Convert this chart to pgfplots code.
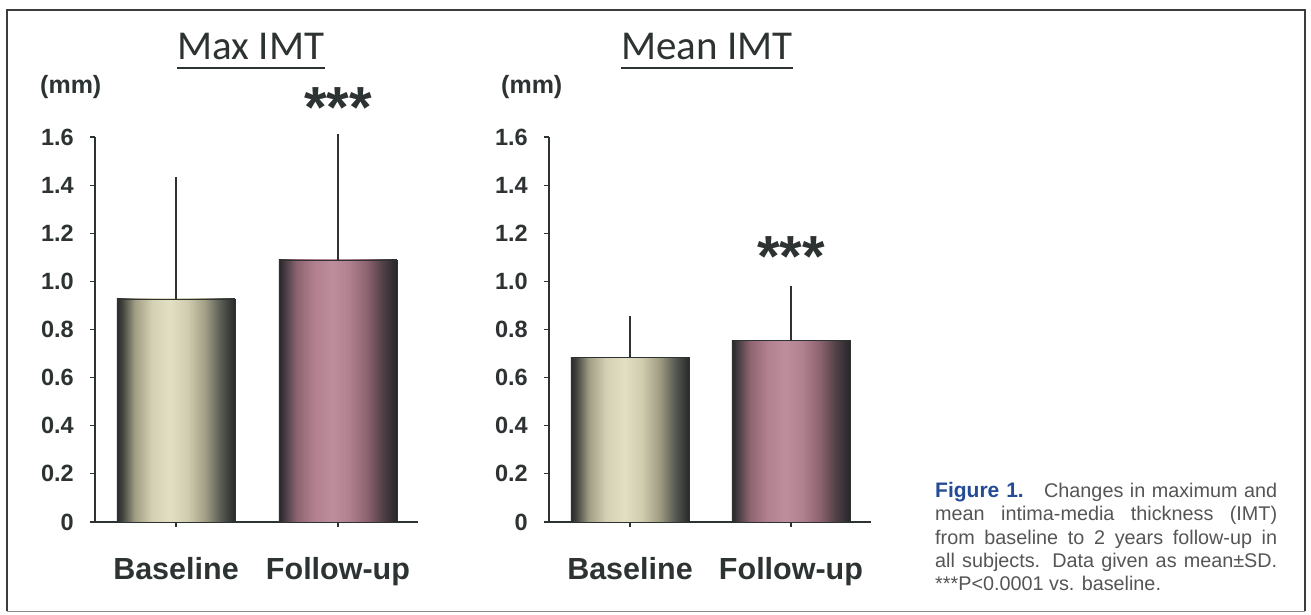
\documentclass[border=0pt]{standalone}
\usepackage{pgfplots}
\pgfplotsset{compat=1.18}
\usepackage{fontspec}
\setmainfont{Liberation Sans}
\newfontfamily\calibri{Carlito}

\definecolor{axisgray}{RGB}{45,50,50}
\definecolor{capgray}{RGB}{85,85,85}
\definecolor{figblue}{RGB}{35,75,150}
\definecolor{framegray}{RGB}{60,60,60}
% baseline (beige) cylinder colours
\definecolor{bA}{RGB}{38,42,42}
\definecolor{bB}{RGB}{70,72,66}
\definecolor{bC}{RGB}{160,157,132}
\definecolor{bD}{RGB}{212,209,180}
\definecolor{bE}{RGB}{226,223,196}
\definecolor{bF}{RGB}{208,204,174}
\definecolor{bG}{RGB}{160,157,132}
\definecolor{bH}{RGB}{88,90,82}
% follow-up (mauve) cylinder colours
\definecolor{fA}{RGB}{38,38,42}
\definecolor{fB}{RGB}{70,60,66}
\definecolor{fC}{RGB}{140,100,112}
\definecolor{fD}{RGB}{178,128,142}
\definecolor{fE}{RGB}{190,142,156}
\definecolor{fF}{RGB}{175,128,141}
\definecolor{fG}{RGB}{138,98,110}
\definecolor{fH}{RGB}{80,64,70}

\pgfdeclarehorizontalshading{cylB}{100bp}{color(0bp)=(bA); color(25bp)=(bA); color(27.5bp)=(bB); color(32.5bp)=(bC); color(40bp)=(bD); color(47.5bp)=(bE); color(55bp)=(bF); color(62.5bp)=(bG); color(69bp)=(bH); color(75bp)=(bA); color(100bp)=(bA)}
\pgfdeclarehorizontalshading{cylF}{100bp}{color(0bp)=(fA); color(25bp)=(fA); color(27.5bp)=(fB); color(32.5bp)=(fC); color(40bp)=(fD); color(47.5bp)=(fE); color(55bp)=(fF); color(62.5bp)=(fG); color(69bp)=(fH); color(75bp)=(fA); color(100bp)=(fA)}

\pgfplotsset{
  imtaxis/.style={
    scale only axis,
    height=385pt,
    anchor=south west,
    ymin=0, ymax=1.6,
    axis x line*=bottom,
    axis y line*=left,
    axis line style={line width=2.6pt, color=axisgray},
    tick style={line width=1.2pt, color=axisgray},
    major tick length=5pt,
    tick align=outside,
    ytick={0,0.2,0.4,0.6,0.8,1.0,1.2,1.4,1.6},
    yticklabels={0,0.2,0.4,0.6,0.8,1.0,1.2,1.4,1.6},
    yticklabel style={font=\fontsize{23.5}{23.5}\selectfont\bfseries, text=axisgray, inner sep=0pt, anchor=east, xshift=-16pt},
    xtick={0,1},
    xticklabels={Baseline,Follow-up},
    xticklabel style={font=\fontsize{30.5}{30.5}\selectfont\bfseries, text=axisgray, inner sep=0pt, anchor=base, yshift=-52pt},
    clip=false,
    ybar, bar width=118pt, bar shift=0pt,
  },
  imtbar/.style={
    draw=axisgray, line width=0.8pt, shade, shading=#1,
    error bars/.cd, y dir=plus, y explicit,
    error bar style={line width=1.2pt, color=axisgray},
    error mark options={line width=1.2pt, mark size=2pt, color=axisgray},
  },
}

\begin{document}
\begin{tikzpicture}
\useasboundingbox (0pt,0pt) rectangle (1311pt,614pt);
\fill[white] (0pt,0pt) rectangle (1311pt,614pt);
\draw[framegray, line width=1.8pt] (7pt,3pt) -- (7pt,604pt) -- (1305pt,604pt) -- (1305pt,3pt);
\draw[framegray!60, line width=1pt] (7pt,3pt) -- (1305pt,3pt);

% ---------- Max IMT ----------
\begin{axis}[imtaxis, at={(95pt,92pt)}, width=323pt, xmin=-0.5, xmax=1.494]
\addplot[imtbar=cylB] coordinates {(0,0.927) +- (0,0.499)};
\addplot[imtbar=cylF] coordinates {(1,1.089) +- (0,0.515)};
\node[font=\fontsize{58}{58}\selectfont\bfseries, text=axisgray, anchor=base] at (axis cs:1,1.64) {***};
\end{axis}

% ---------- Mean IMT ----------
\begin{axis}[imtaxis, at={(549pt,92pt)}, width=322pt, xmin=-0.503, xmax=1.497]
\addplot[imtbar=cylB] coordinates {(0,0.683) +- (0,0.166)};
\addplot[imtbar=cylF] coordinates {(1,0.754) +- (0,0.217)};
\node[font=\fontsize{58}{58}\selectfont\bfseries, text=axisgray, anchor=base] at (axis cs:1,1.02) {***};
\end{axis}

% titles and units
\node[font=\calibri\fontsize{41}{41}\selectfont, text=axisgray, anchor=base, inner sep=0pt] (t1) at (251pt,554pt) {Max IMT};
\node[font=\calibri\fontsize{41}{41}\selectfont, text=axisgray, anchor=base, inner sep=0pt] (t2) at (707pt,554pt) {Mean IMT};
\draw[axisgray, line width=1.6pt] ([yshift=-8pt]t1.base west) -- ([yshift=-8pt]t1.base east);
\draw[axisgray, line width=1.6pt] ([yshift=-8pt]t2.base west) -- ([yshift=-8pt]t2.base east);
\node[font=\fontsize{25}{25}\selectfont\bfseries, text=axisgray, anchor=base west, inner sep=0pt] at (40pt,520pt) {(mm)};
\node[font=\fontsize{25}{25}\selectfont\bfseries, text=axisgray, anchor=base west, inner sep=0pt] at (501pt,520pt) {(mm)};

% caption
\node[anchor=north west, inner sep=0pt, text width=342pt, align=justify, text=capgray,
      font=\fontsize{19.8}{23.3}\selectfont] at (935pt,132pt)
  {\hyphenpenalty=10000 {\color{figblue}\fontsize{21}{23.3}\selectfont\bfseries Figure 1.}\hspace{10pt} Changes in maximum and\linebreak
   mean intima-media thickness (IMT)\linebreak
   from baseline to 2 years follow-up in\linebreak
   all subjects. Data given as mean±SD.\linebreak
   ***P<0.0001 vs. baseline.};
\end{tikzpicture}
\end{document}
